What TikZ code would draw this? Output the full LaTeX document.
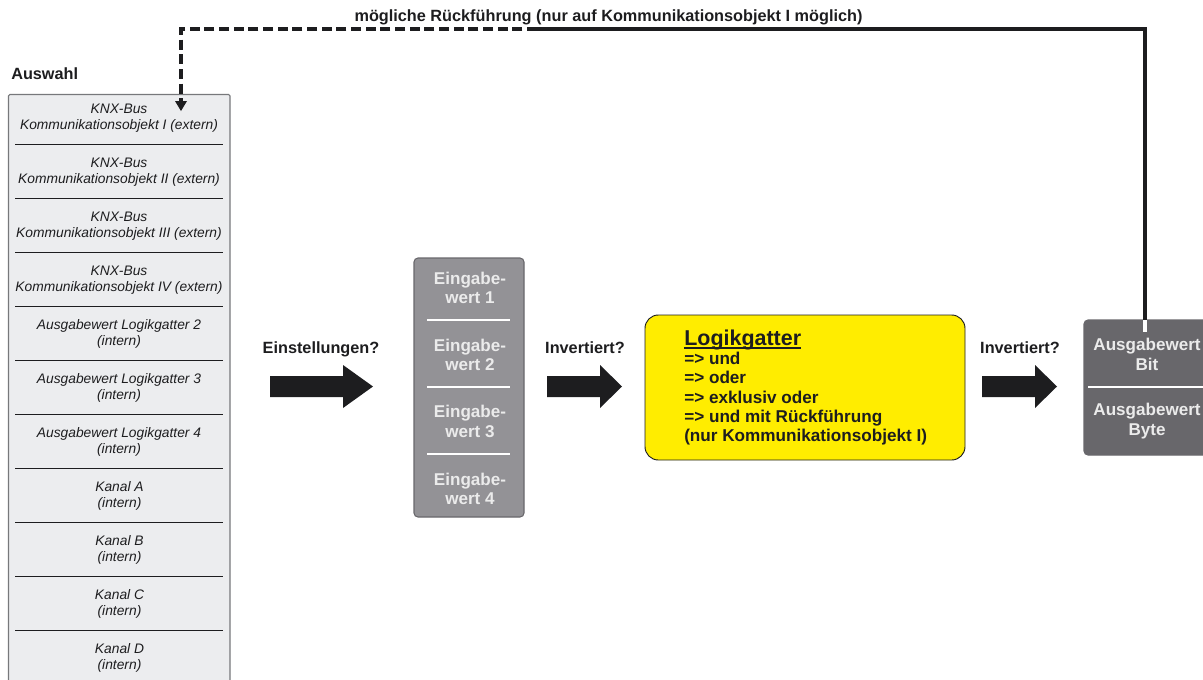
\documentclass[tikz,border=0pt]{standalone}
\usepackage{fontspec}
\usetikzlibrary{calc}
\setmainfont{Liberation Sans}
\definecolor{inkc}{HTML}{1D1D1F}
\definecolor{selfill}{HTML}{ECEDEF}
\definecolor{selline}{HTML}{77787B}
\definecolor{eingfill}{HTML}{939296}
\definecolor{ausfill}{HTML}{68676B}
\definecolor{gelb}{HTML}{FFED00}
\tikzset{
  seltext/.style={font=\fontsize{10.35}{11.8}\selectfont\itshape,align=center,text=inkc,inner sep=0pt},
  boldlabel/.style={font=\fontsize{12.2}{14}\selectfont\bfseries,text=inkc,inner sep=0pt},
  whitetext/.style={font=\fontsize{12.8}{14.6}\selectfont\bfseries,align=center,text=white!92!black,inner sep=0pt},
  sepline/.style={draw=inkc,line width=0.6pt},
  whitesep/.style={draw=white,line width=1.2pt},
  blockarrow/.style={fill=inkc,draw=none},
  box/.style={draw=#1,line width=0.8pt,rounded corners=3pt},
}
\begin{document}
\begin{tikzpicture}[x=0.75pt,y=-0.75pt]
\useasboundingbox (0,0) rectangle (1203,679);
\clip (0,0) rectangle (1203,679);
% selection box
\draw[box=selline,fill=selfill,rounded corners=1pt] (8.5,94.5) rectangle (230,700);
\node[boldlabel,anchor=base west] (auswahl) at (11,79.5) {Auswahl};
\foreach \yy in {144.5,198.5,252.5,306.5,360.5,414.5,468.5,522.5,576.5,630.5}
  \draw[sepline] (15,\yy) -- (223,\yy);
\node[seltext] (s1) at (119,118.5) {KNX-Bus\\Kommunikationsobjekt I (extern)};
\node[seltext] (s2) at (119,172.5) {KNX-Bus\\Kommunikationsobjekt II (extern)};
\node[seltext] (s3) at (119,226.5) {KNX-Bus\\Kommunikationsobjekt III (extern)};
\node[seltext] (s4) at (119,280.5) {KNX-Bus\\Kommunikationsobjekt IV (extern)};
\node[seltext] (s5) at (119,334) {Ausgabewert Logikgatter 2\\(intern)};
\node[seltext] (s6) at (119,388) {Ausgabewert Logikgatter 3\\(intern)};
\node[seltext] (s7) at (119,442) {Ausgabewert Logikgatter 4\\(intern)};
\node[seltext] (s8) at (119.5,496) {Kanal A\\(intern)};
\node[seltext] (s9) at (119.5,550) {Kanal B\\(intern)};
\node[seltext] (s10) at (119.5,604) {Kanal C\\(intern)};
\node[seltext] (s11) at (119.5,658) {Kanal D\\(intern)};
% input box
\draw[box=ausfill,fill=eingfill] (414,258) rectangle (524,517);
\foreach \yy in {320,387,454}
  \draw[whitesep] (427,\yy) -- (510,\yy);
\node[whitetext] (e1) at (470,288) {Eingabe-\\wert 1};
\node[whitetext] (e2) at (470,355) {Eingabe-\\wert 2};
\node[whitetext] (e3) at (470,421.5) {Eingabe-\\wert 3};
\node[whitetext] (e4) at (470,489) {Eingabe-\\wert 4};
% logic gate
\draw[draw=inkc,line width=0.7pt,fill=gelb,rounded corners=10pt] (645,315) rectangle (965,460);
\node[anchor=base west,inner sep=0pt,font=\fontsize{16.1}{18}\selectfont\bfseries,text=inkc] (lg) at (684,345) {Logikgatter};
\draw[inkc,line width=1pt] (lg.base west |- 0,348) -- (lg.base east |- 0,348);
\node[anchor=north west,inner sep=0pt,align=left,font=\fontsize{12.85}{14.4}\selectfont\bfseries,text=inkc] (lgt) at (684,352) {=> und\\=> oder\\=> exklusiv oder\\=> und mit Rückführung\\(nur Kommunikationsobjekt I)};
% output box
\draw[box=ausfill,fill=ausfill] (1084,320) rectangle (1215,455);
\draw[whitesep] (1088,387) -- (1203,387);
\node[whitetext] (a1) at (1147,354.5) {Ausgabewert\\Bit};
\node[whitetext] (a2) at (1147,421) {Ausgabewert\\Byte};
% block arrows
\fill[blockarrow] (270,376) -- (343,376) -- (343,365) -- (373,386.5) -- (343,408) -- (343,397) -- (270,397) -- cycle;
\fill[blockarrow] (547,376) -- (600,376) -- (600,365) -- (622,386.5) -- (600,408) -- (600,397) -- (547,397) -- cycle;
\fill[blockarrow] (982,376) -- (1035,376) -- (1035,365) -- (1057,386.5) -- (1035,408) -- (1035,397) -- (982,397) -- cycle;
\node[boldlabel,anchor=base] (l1) at (321,353.5) {Einstellungen?};
\node[boldlabel,anchor=base] (l2) at (585,353.5) {Invertiert?};
\node[boldlabel,anchor=base] (l3) at (1020,353.5) {Invertiert?};
\node[boldlabel,anchor=base] (top) at (608.5,21) {mögliche Rückführung (nur auf Kommunikationsobjekt I möglich)};
% feedback
\coordinate (fbmid) at (527,29);
\coordinate (fbleft) at (181,29);
\coordinate (fbright) at (1145,29);
\coordinate (fbend) at (181,111);
\coordinate (fbstart) at (1145,320);
\coordinate (fbwhite) at (1145,332);
\draw[inkc,line width=2.4pt,line join=miter] (fbmid) -- (fbright) -- (fbstart);
\draw[white,line width=2.4pt] (fbstart) -- (fbwhite);
\draw[inkc,line width=2.4pt,dash pattern=on 7.5pt off 3.5pt,dash phase=7.5pt] (fbmid) -- (fbleft) -- ($(fbend)+(0,-9)$);
\fill[inkc] (175,101) -- (187,101) -- (fbend) -- cycle;
\end{tikzpicture}
\end{document}
